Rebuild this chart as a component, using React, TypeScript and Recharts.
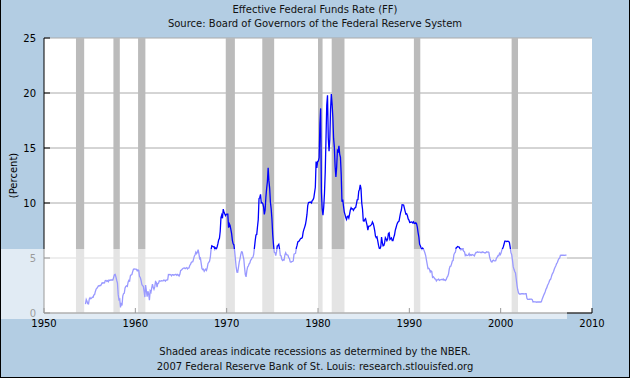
import { LineChart, Line, XAxis, YAxis, CartesianGrid, ReferenceArea } from 'recharts';

// monthly effective federal funds rate, starting July 1954
const rates1950s = [
  0.8, 1.22, 1.06, 0.85, 0.83, 1.28,
  1.39, 1.29, 1.35, 1.43, 1.43, 1.64, 1.68, 1.96, 2.18, 2.24, 2.35, 2.48,
  2.45, 2.5, 2.5, 2.62, 2.75, 2.71, 2.75, 2.73, 2.95, 2.96, 2.88, 2.94,
  2.84, 3.0, 2.96, 3.0, 3.0, 3.0, 2.99, 3.24, 3.47, 3.5, 3.28, 2.98,
  2.72, 1.67, 1.2, 1.26, 0.5, 0.93, 0.68, 1.53, 1.76, 1.8, 2.27, 2.42,
  2.48, 2.43, 2.8, 2.96, 2.9, 3.39, 3.47, 3.5, 3.76, 3.98, 4.0, 3.99,
];
const rates1960s = [
  3.99, 3.97, 3.84, 3.92, 3.85, 3.32, 3.23, 2.98, 2.6, 2.47, 2.44, 1.98,
  1.45, 2.54, 2.02, 1.49, 1.98, 1.73, 1.17, 2.0, 1.88, 2.26, 2.62, 2.33,
  2.15, 2.37, 2.85, 2.78, 2.36, 2.68, 2.71, 2.93, 2.9, 2.9, 2.94, 2.93,
  2.92, 3.0, 2.98, 2.9, 3.0, 2.99, 3.02, 3.49, 3.48, 3.5, 3.48, 3.38,
  3.48, 3.48, 3.43, 3.47, 3.5, 3.5, 3.42, 3.5, 3.45, 3.36, 3.52, 3.85,
  3.9, 3.98, 4.04, 4.09, 4.1, 4.04, 4.09, 4.12, 4.01, 4.08, 4.1, 4.32,
  4.42, 4.6, 4.65, 4.67, 4.9, 5.17, 5.3, 5.53, 5.4, 5.53, 5.76, 5.4,
  4.94, 5.0, 4.53, 4.05, 3.94, 3.98, 3.79, 3.9, 3.99, 3.88, 4.13, 4.51,
  4.61, 4.71, 5.05, 5.76, 6.11, 6.07, 6.02, 6.03, 5.78, 5.91, 5.82, 6.02,
  6.3, 6.64, 6.79, 7.41, 8.67, 8.9, 8.61, 9.45, 9.15, 9.0, 8.85, 8.97,
];
const rates1970s = [
  8.98, 8.98, 7.76, 8.1, 7.95, 7.61, 7.21, 6.61, 6.29, 6.2, 5.6, 4.9,
  4.14, 3.72, 3.71, 4.15, 4.63, 4.91, 5.31, 5.57, 5.55, 5.2, 4.91, 4.14,
  3.5, 3.29, 3.83, 4.17, 4.27, 4.46, 4.55, 4.8, 4.87, 5.04, 5.06, 5.33,
  5.94, 6.58, 7.09, 7.12, 7.84, 8.49, 10.4, 10.5, 10.78, 10.01, 10.03, 9.95,
  9.65, 8.97, 9.35, 10.51, 11.31, 11.93, 13.2, 12.01, 11.34, 10.06, 9.45, 8.53,
  7.13, 6.24, 5.54, 5.49, 5.22, 5.55, 6.1, 6.14, 6.24, 5.82, 5.22, 5.2,
  4.87, 4.77, 4.84, 4.82, 5.29, 5.48, 5.31, 5.29, 5.25, 5.02, 4.95, 4.65,
  4.61, 4.68, 4.69, 4.73, 5.35, 5.39, 5.42, 5.9, 6.14, 6.47, 6.51, 6.56,
  6.7, 6.78, 6.79, 6.89, 7.36, 7.6, 7.81, 8.04, 8.45, 8.96, 9.76, 10.03,
  10.07, 10.06, 10.09, 10.01, 10.24, 10.29, 10.47, 10.94, 11.43, 13.77, 13.18, 13.78,
];
const rates1980s = [
  13.82, 14.13, 17.19, 18.6, 10.98, 9.47, 8.9, 9.61, 10.87, 12.81, 15.85, 18.9,
  19.8, 15.93, 14.7, 15.72, 18.52, 19.9, 19.04, 17.82, 15.87, 15.08, 13.31, 12.37,
  13.22, 14.78, 14.68, 15.2, 14.45, 14.15, 12.59, 10.12, 10.31, 9.71, 9.2, 8.95,
  8.68, 8.51, 8.77, 8.8, 8.63, 8.98, 9.37, 9.56, 9.45, 9.48, 9.34, 9.47,
  9.56, 9.59, 9.91, 10.29, 10.32, 11.06, 11.23, 11.64, 11.3, 9.99, 9.43, 8.38,
  8.35, 8.5, 8.58, 8.27, 7.97, 7.53, 7.88, 7.9, 7.92, 7.99, 8.05, 8.27,
  8.14, 7.86, 7.48, 6.99, 6.85, 6.92, 6.56, 6.17, 5.89, 5.85, 6.04, 6.91,
  6.43, 6.1, 6.13, 6.37, 6.85, 6.73, 6.58, 6.73, 7.22, 7.29, 6.69, 6.77,
  6.83, 6.58, 6.58, 6.87, 7.09, 7.51, 7.75, 8.01, 8.19, 8.3, 8.35, 8.76,
  9.12, 9.36, 9.85, 9.84, 9.81, 9.53, 9.24, 8.99, 9.02, 8.84, 8.55, 8.45,
];
const rates1990s = [
  8.23, 8.24, 8.28, 8.26, 8.18, 8.29, 8.15, 8.13, 8.2, 8.11, 7.81, 7.31,
  6.91, 6.25, 6.12, 5.91, 5.78, 5.9, 5.82, 5.66, 5.45, 5.21, 4.81, 4.43,
  4.03, 4.06, 3.98, 3.73, 3.82, 3.76, 3.25, 3.3, 3.22, 3.1, 3.09, 2.92,
  3.02, 3.03, 3.07, 2.96, 3.0, 3.04, 3.06, 3.03, 3.09, 2.99, 3.02, 2.96,
  3.05, 3.25, 3.34, 3.56, 4.01, 4.25, 4.26, 4.47, 4.73, 4.76, 5.29, 5.45,
  5.53, 5.92, 5.98, 6.05, 6.01, 6.0, 5.85, 5.74, 5.8, 5.76, 5.8, 5.6,
  5.56, 5.22, 5.31, 5.22, 5.24, 5.27, 5.4, 5.22, 5.3, 5.24, 5.31, 5.29,
  5.25, 5.19, 5.39, 5.51, 5.5, 5.56, 5.52, 5.54, 5.54, 5.5, 5.52, 5.5,
  5.56, 5.51, 5.49, 5.45, 5.49, 5.56, 5.54, 5.55, 5.51, 5.07, 4.83, 4.68,
  4.63, 4.76, 4.81, 4.74, 4.74, 4.76, 4.99, 5.07, 5.22, 5.2, 5.42, 5.3,
];
const rates2000s = [
  5.45, 5.73, 5.85, 6.02, 6.27, 6.53, 6.54, 6.5, 6.52, 6.51, 6.51, 6.4,
  5.98, 5.49, 5.31, 4.8, 4.21, 3.97, 3.77, 3.65, 3.07, 2.49, 2.09, 1.82,
  1.73, 1.74, 1.73, 1.75, 1.75, 1.75, 1.73, 1.74, 1.75, 1.75, 1.34, 1.24,
  1.24, 1.26, 1.25, 1.26, 1.26, 1.22, 1.01, 1.03, 1.01, 1.01, 1.0, 0.98,
  1.0, 1.01, 1.0, 1.0, 1.0, 1.03, 1.26, 1.43, 1.61, 1.76, 1.93, 2.16,
  2.28, 2.5, 2.63, 2.79, 3.0, 3.04, 3.26, 3.5, 3.62, 3.78, 4.0, 4.16,
  4.29, 4.49, 4.59, 4.79, 4.94, 4.99, 5.24, 5.25, 5.25, 5.25, 5.25, 5.24,
  5.25, 5.26, 5.26,
];

const recessionStart = [1953.5, 1957.6, 1960.3, 1969.9, 1973.9, 1980.0, 1981.5, 1990.5, 2001.2];
const recessionEnd = [1954.4, 1958.3, 1961.1, 1970.9, 1975.2, 1980.5, 1982.9, 1991.2, 2001.9];

const xTicks = [1950, 1960, 1970, 1980, 1990, 2000, 2010];
const yTicks = [0, 5, 10, 15, 20, 25];

const allRates = [...rates1950s, ...rates1960s, ...rates1970s, ...rates1980s, ...rates1990s, ...rates2000s];
const data = allRates.map((v, i) => ({ year: 1954 + (6 + i + 0.5) / 12, rate: v }));

const FONT = '"DejaVu Sans", Verdana, sans-serif';

const PercentLabel = (props: any) => {
  const vb = props.viewBox || {};
  const cx = 13;
  const cy = vb.y + vb.height / 2;
  return (
    <text x={cx} y={cy} transform={`rotate(-90, ${cx}, ${cy})`} textAnchor="middle" dominantBaseline="central"
      fontSize={10} fontFamily={FONT} fill="#000">
      (Percent)
    </text>
  );
};

export default function App() {
  return (
    <div style={{ position: 'relative', width: 630, height: 378, background: '#b3cde3', fontFamily: FONT, overflow: 'hidden' }}>
      <style>{`body{margin:0}`}</style>
      <div style={{ position: 'absolute', top: 4, left: 0, width: 630, textAlign: 'center', fontSize: 10, color: '#111' }}>
        Effective Federal Funds Rate (FF)
      </div>
      <div style={{ position: 'absolute', top: 18, left: 0, width: 630, textAlign: 'center', fontSize: 10, color: '#111' }}>
        Source: Board of Governors of the Federal Reserve System
      </div>
      <div style={{ position: 'absolute', top: 0, left: 0 }}>
        <LineChart width={630} height={378} data={data} margin={{ top: 38, right: 38, left: 0, bottom: 45 }}>
          <CartesianGrid vertical={false} stroke="#aaaaaa" fill="#ffffff" strokeWidth={1} />
          {recessionStart.map((s, i) => (
            <ReferenceArea key={`rec-${i}`} x1={s} x2={recessionEnd[i]} y1={0} y2={25} fill="#bbbbbb" fillOpacity={1} stroke="none" ifOverflow="hidden" />
          ))}
          <XAxis
            dataKey="year"
            type="number"
            domain={[1950, 2010]}
            ticks={xTicks}
            height={20}
            tickSize={-5}
            tickMargin={12}
            stroke="#000"
            tick={{ fill: '#000', fontSize: 10, fontFamily: FONT }}
            allowDataOverflow
          />
          <YAxis
            type="number"
            domain={[0, 25]}
            ticks={yTicks}
            width={44}
            tickSize={-6}
            tickMargin={14}
            stroke="#000"
            tick={{ fill: '#000', fontSize: 10, fontFamily: FONT }}
            label={<PercentLabel />}
          />
          <Line type="linear" dataKey="rate" stroke="#0000ff" strokeWidth={1.3} dot={false} isAnimationActive={false} />
        </LineChart>
      </div>
      {/* photo-host watermark band that washes out the lower part */}
      <div style={{ position: 'absolute', left: 1, top: 249, width: 566, height: 70, background: 'rgba(255,255,255,0.6)', pointerEvents: 'none' }} />
      <div style={{ position: 'absolute', top: 346, left: 0, width: 630, textAlign: 'center', fontSize: 10, color: '#111' }}>
        Shaded areas indicate recessions as determined by the NBER.
      </div>
      <div style={{ position: 'absolute', top: 361, left: 0, width: 630, textAlign: 'center', fontSize: 10, color: '#111' }}>
        2007 Federal Reserve Bank of St. Louis: research.stlouisfed.org
      </div>
      <div style={{ position: 'absolute', inset: 0, borderLeft: '1px solid #000', borderRight: '1px solid #000', borderBottom: '1px solid #000', pointerEvents: 'none' }} />
    </div>
  );
}
